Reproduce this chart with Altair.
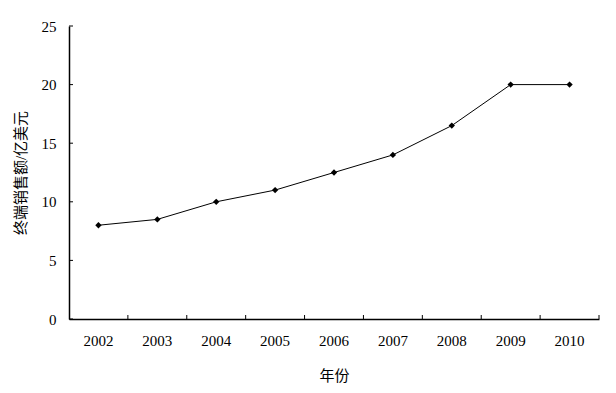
import altair as alt
import pandas as pd

years = ["2002", "2003", "2004", "2005", "2006", "2007", "2008", "2009", "2010"]
sales = [8, 8.5, 10, 11, 12.5, 14, 16.5, 20, 20]
y_ticks = [0, 5, 10, 15, 20, 25]

df = pd.DataFrame({"year": years, "sales": sales})
tick_df = pd.DataFrame({"v": y_ticks})

FONT = "Liberation Serif, Noto Sans CJK SC"

x_enc = alt.X(
    "year:O",
    title="年份",
    scale=alt.Scale(paddingInner=0, paddingOuter=0),
    axis=alt.Axis(labelAngle=0, ticks=False, labelPadding=14, titlePadding=20,
                  domainColor="black", domainWidth=1.5),
)
y_scale = alt.Scale(domain=[0, 25], nice=False)
y_enc = alt.Y(
    "sales:Q",
    title="终端销售额/亿美元",
    scale=y_scale,
    axis=alt.Axis(values=y_ticks, ticks=False, labelPadding=13, titlePadding=13,
                  domainColor="black", domainWidth=1.5, grid=False),
)

line = alt.Chart(df).mark_line(color="black", strokeWidth=1).encode(x=x_enc, y=y_enc)
pts = alt.Chart(df).mark_point(shape="diamond", filled=True, color="black", size=40, opacity=1).encode(
    x=alt.X("year:O"), y=alt.Y("sales:Q")
)
xticks = alt.Chart(df).mark_rule(color="black", strokeWidth=1).encode(
    x=alt.X("year:O", bandPosition=1),
    y=alt.value(289),
    y2=alt.value(293),
)
yticks = alt.Chart(tick_df).mark_rule(color="black", strokeWidth=1).encode(
    y=alt.Y("v:Q", scale=y_scale),
    x=alt.value(0),
    x2=alt.value(4),
)

chart = (
    alt.layer(line, xticks, yticks, pts)
    .properties(
        width=530,
        height=293,
        autosize=alt.AutoSizeParams(type="none"),
        padding={"left": 61, "top": 18, "right": 5, "bottom": 66},
    )
    .configure_view(stroke=None)
    .configure_axis(
        labelFont=FONT, titleFont=FONT, labelFontSize=15, titleFontSize=15,
        labelColor="black", titleColor="black", titleFontWeight="normal",
    )
)

chart.save("out.html", embed_options={"renderer": "svg", "actions": False})
